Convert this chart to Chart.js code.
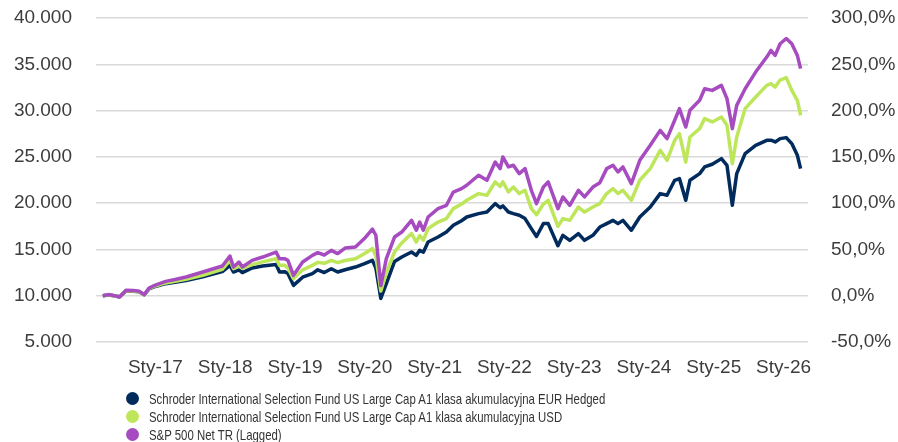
<!DOCTYPE html>
<html><head><meta charset="utf-8">
<script src="https://cdn.jsdelivr.net/npm/chart.js@4.4.1/dist/chart.umd.min.js"></script>
<style>
html,body{margin:0;padding:0;background:#fff;}
#wrap{position:relative;width:898px;height:442px;overflow:hidden;}
#legend{position:absolute;left:126px;top:389px;font-family:'Liberation Sans Narrow','Arial Narrow','Liberation Sans',Arial,sans-serif;font-size:15px;color:#333;}
.item{display:flex;align-items:center;height:18px;white-space:nowrap;}
.dot{width:13px;height:13px;border-radius:50%;margin-right:10px;flex:none;}
.txt{display:inline-block;transform:scaleX(0.76);transform-origin:0 50%;}
</style></head><body>
<div id="wrap"><canvas id="c" width="898" height="442"></canvas><div id="legend"></div></div>
<script>
const seriesNames = [
  'Schroder International Selection Fund US Large Cap A1 klasa akumulacyjna EUR Hedged',
  'Schroder International Selection Fund US Large Cap A1 klasa akumulacyjna USD',
  'S&P 500 Net TR (Lagged)'
];
const seriesColors = ['#002B5C', '#BEE65A', '#A64CC0'];
const tickYears = [2017,2018,2019,2020,2021,2022,2023,2024,2025,2026];

const dates = [
'2016-03-31','2016-04-30','2016-05-20','2016-06-27','2016-07-30','2016-09-08','2016-10-08','2016-11-03','2016-11-29','2016-12-31',
'2017-02-24','2017-04-14','2017-06-10','2017-09-06','2017-12-17','2018-01-26','2018-02-13','2018-03-14','2018-04-01','2018-05-22',
'2018-07-16','2018-09-24','2018-10-12','2018-11-07','2018-11-25','2018-12-24','2019-02-10','2019-04-02','2019-04-30','2019-06-03',
'2019-07-10','2019-08-12','2019-09-20','2019-11-13','2019-12-31','2020-02-10','2020-02-28','2020-03-25','2020-04-23','2020-06-05',
'2020-07-13','2020-09-02','2020-09-27','2020-10-15','2020-11-03','2020-11-28','2021-01-19','2021-03-04','2021-04-09','2021-05-22',
'2021-06-18','2021-08-19','2021-10-02','2021-11-14','2021-12-10','2021-12-24','2022-01-22','2022-02-17','2022-03-20','2022-04-19',
'2022-05-22','2022-06-18','2022-07-24','2022-08-18','2022-10-08','2022-11-03','2022-12-09','2023-01-23','2023-02-24','2023-04-09',
'2023-05-15','2023-06-20','2023-07-23','2023-08-18','2023-09-13','2023-10-27','2023-12-10','2024-02-03','2024-03-26','2024-05-01',
'2024-06-10','2024-07-05','2024-08-07','2024-08-29','2024-10-19','2024-11-14','2024-12-24','2025-02-10','2025-03-11','2025-04-08',
'2025-05-01','2025-06-14','2025-08-08','2025-10-05','2025-10-27','2025-11-18','2025-12-14','2026-01-15','2026-02-13','2026-03-14',
'2026-03-31'
];
const eurHedged = [
10000,10080,10020,9880,10500,10480,10420,10100,10750,11000,
11300,11450,11650,12050,12600,13280,12560,12800,12500,13000,
13200,13360,12560,12600,12400,11120,12000,12390,12800,12500,
12920,12560,12800,13100,13470,13820,13000,9700,11300,13700,
14180,14720,14360,14900,14700,15800,16340,16880,17610,18100,
18500,18870,19040,19950,19500,19700,19040,18870,18690,18330,
17250,16400,17790,17790,15400,16520,15980,16710,15980,16520,
17420,17790,18140,17790,18140,17070,18500,19580,21030,20850,
22470,22650,20310,22470,23190,23910,24200,24810,24090,19770,
23190,25350,26250,26790,26800,26610,26970,27080,26430,25170,
23730
];
const usd = [
10000,10090,10030,9880,10530,10500,10440,10110,10780,11050,
11380,11550,11780,12200,12850,13820,12920,13200,12950,13360,
13650,14000,13280,13300,13000,11850,12800,13280,13600,13500,
13820,13570,13800,14000,14550,15090,14300,10500,12500,14720,
15700,16710,15800,16500,16000,17250,17960,18330,19410,19900,
20310,21030,20850,22290,21800,22300,21200,21740,21030,21390,
19410,18750,19900,20310,17500,18330,18140,19580,19040,19580,
19950,21030,21570,21030,21390,20310,22470,23730,25710,24630,
26790,27500,24440,27140,28050,29130,28770,29310,28410,24270,
27140,30210,31470,32720,32900,32540,33300,33560,32180,31110,
29490
];
const sp500 = [
10000,10120,10060,9860,10580,10560,10480,10120,10830,11150,
11550,11750,12020,12560,13210,14290,13100,13640,13100,13820,
14180,14720,14000,14000,13820,12200,13640,14360,14650,14400,
14900,14550,15150,15260,16200,17200,16530,11100,14000,16340,
16880,18140,17070,17960,17070,18500,19410,19770,21200,21570,
21930,23010,22470,24440,23730,24990,23910,24090,23190,23730,
21390,19950,21740,22290,19400,20670,19770,21390,20670,21740,
22200,23730,24090,23370,23910,22110,24630,26250,27860,26970,
28950,30210,28220,30030,31110,32360,32180,32720,31290,28050,
30560,32360,34160,35780,36500,35960,37220,37790,37220,35960,
34530
];

function toYear(s){
  const [y,m,d] = s.split('-').map(Number);
  const start = Date.UTC(y,0,1), end = Date.UTC(y+1,0,1);
  return y + (Date.UTC(y,m-1,d) - start)/(end - start);
}
const xs = dates.map(toYear);
const allSeries = [eurHedged, usd, sp500];

const fontFam = "'Liberation Sans', Arial, sans-serif";
const tickColor = '#3d3d3d';
function fmtThousands(v){ return String(Math.round(v)).replace(/\B(?=(\d{3})+(?!\d))/g,'.'); }
function fmtPct(v){ return v.toFixed(1).replace('.',',') + '%'; }

const datasets = allSeries.map((arr,i)=>({
  label: seriesNames[i],
  data: arr.map((v,j)=>({x:xs[j], y:v})),
  borderColor: seriesColors[i],
  backgroundColor: seriesColors[i],
  borderWidth: 3.5,
  borderJoinStyle: 'round',
  pointRadius: 0,
  tension: 0,
  fill: false,
  yAxisID: 'y',
  order: 2 - i
}));

function fixVertical(width){
  return s => { s.width = width; s.paddingTop = 0; s.paddingBottom = 0; };
}

new Chart(document.getElementById('c'), {
  type: 'line',
  data: { datasets },
  options: {
    responsive: false,
    animation: false,
    devicePixelRatio: 1,
    layout: { padding: { top: 18, bottom: 60, left: 0, right: 0 } },
    plugins: { legend: { display: false }, tooltip: { enabled: false } },
    scales: {
      x: {
        type: 'linear', min: 2016.149, max: 2026.35,
        grid: { display: false }, border: { display: false },
        afterBuildTicks: s => { s.ticks = tickYears.map(v => ({ value: v })); },
        afterFit: s => { s.height = 40; s.paddingLeft = 0; s.paddingRight = 0; },
        ticks: { autoSkip: false, maxRotation: 0, padding: 6, color: tickColor,
                 font: { family: fontFam, size: 19 },
                 callback: v => 'Sty-' + String(v).slice(2) }
      },
      y: {
        position: 'left', min: 5000, max: 40000,
        grid: { color: '#d9d9d9', lineWidth: 1.5, drawTicks: false },
        border: { display: false },
        afterFit: fixVertical(96),
        ticks: { stepSize: 5000, padding: 24, color: tickColor,
                 font: { family: fontFam, size: 19 }, callback: v => fmtThousands(v) }
      },
      y2: {
        position: 'right', min: -50, max: 300,
        grid: { display: false, drawTicks: false }, border: { display: false },
        afterFit: fixVertical(90),
        ticks: { stepSize: 50, padding: 23, color: tickColor,
                 font: { family: fontFam, size: 19 }, callback: v => fmtPct(v) }
      }
    }
  }
});

const lg = document.getElementById('legend');
seriesNames.forEach((n,i)=>{
  const it = document.createElement('div'); it.className='item';
  const dot = document.createElement('span'); dot.className='dot'; dot.style.background = seriesColors[i];
  const t = document.createElement('span'); t.className='txt'; t.textContent = n;
  it.appendChild(dot); it.appendChild(t); lg.appendChild(it);
});
</script>
</body></html>
